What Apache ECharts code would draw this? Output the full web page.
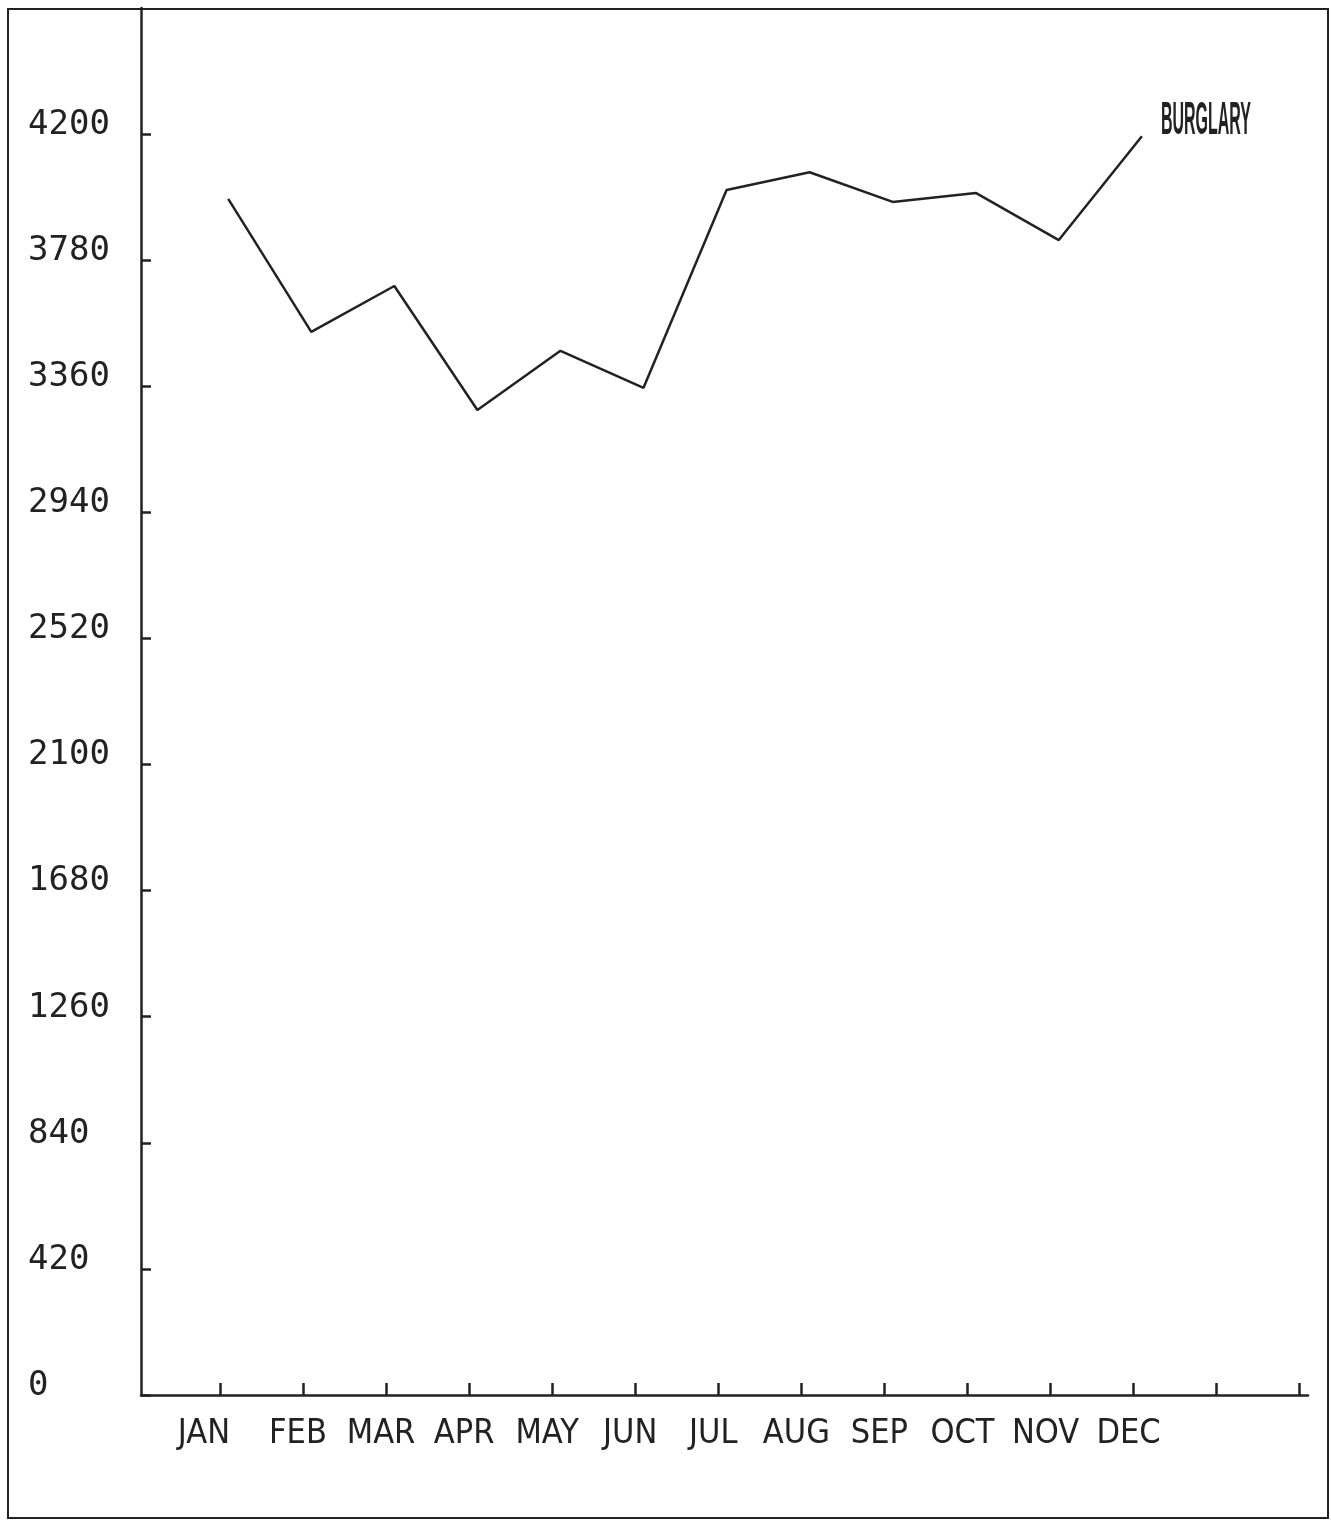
<!DOCTYPE html>
<html>
<head>
<meta charset="utf-8">
<script src="https://cdn.jsdelivr.net/npm/echarts@6/dist/echarts.min.js"></script>
<style>
  html, body { margin: 0; padding: 0; background: #fff; }
  #chart { width: 1331px; height: 1522px; }
</style>
</head>
<body>
<div id="chart"></div>
<script>
const months = ['JAN', 'FEB', 'MAR', 'APR', 'MAY', 'JUN', 'JUL', 'AUG', 'SEP', 'OCT', 'NOV', 'DEC'];
const burglary = [3984, 3541, 3694, 3281, 3478, 3355, 4014, 4073, 3974, 4004, 3847, 4193];
const seriesName = 'BURGLARY';
const yTicks = [0, 420, 840, 1260, 1680, 2100, 2520, 2940, 3360, 3780, 4200];
const xTicks = [1, 2, 3, 4, 5, 6, 7, 8, 9, 10, 11, 12, 13, 14];

const ink = '#222';
const plotShift = 0.1; // the plotter put the points a little right of the tick marks

const chart = echarts.init(document.getElementById('chart'));

const frame = {
  type: 'rect',
  z: -1,
  shape: { x: 8, y: 9, width: 1320, height: 1509 },
  style: { fill: 'none', stroke: ink, lineWidth: 2 }
};

chart.setOption({
  animation: false,
  backgroundColor: '#fff',
  grid: { left: 141, right: 23, top: 8, bottom: 127 },
  xAxis: {
    type: 'value',
    min: 0.05,
    max: 14.1,
    axisLine: { onZero: false, lineStyle: { color: ink, width: 2.5 } },
    axisTick: { inside: true, length: 12, customValues: xTicks, lineStyle: { color: ink, width: 2.5 } },
    axisLabel: {
      customValues: months.map((m, i) => i + 1),
      // first label sits further left than the others in the original
      formatter: v => {
        const i = Math.round(v) - 1;
        return i === 0 ? '{first|' + months[i] + '}' : (months[i] || '');
      },
      fontFamily: '"Liberation Sans Narrow", "DejaVu Sans Condensed", sans-serif',
      fontSize: 34,
      color: ink,
      margin: 22,
      padding: [0, 10, 0, 0],
      rich: {
        first: {
          fontFamily: '"Liberation Sans Narrow", "DejaVu Sans Condensed", sans-serif',
          fontSize: 34,
          color: ink,
          padding: [0, 22, 0, 0]
        }
      }
    },
    splitLine: { show: false }
  },
  yAxis: {
    type: 'value',
    min: 0,
    max: 4620,
    axisLine: { show: true, onZero: false, lineStyle: { color: ink, width: 2.5 } },
    axisTick: { show: true, inside: true, length: 10, customValues: yTicks, lineStyle: { color: ink, width: 2.5 } },
    axisLabel: {
      customValues: yTicks,
      formatter: v => String(v),
      fontFamily: '"DejaVu Sans Mono", monospace',
      fontSize: 34,
      color: ink,
      align: 'left',
      verticalAlign: 'bottom',
      lineHeight: 18,
      margin: 113
    },
    splitLine: { show: false }
  },
  graphic: [frame],
  series: [{
    name: seriesName,
    type: 'line',
    data: burglary.map((v, i) => [i + 1 + plotShift, v]),
    symbol: 'none',
    lineStyle: { color: ink, width: 2.5 }
  }]
});

// series name written next to the last point, squeezed like the plotter lettering
const last = burglary.length - 1;
const endPt = chart.convertToPixel({ gridIndex: 0 }, [last + 1 + plotShift, burglary[last]]);
chart.setOption({
  graphic: [frame, {
    type: 'text',
    x: endPt[0] + 19,
    y: endPt[1] - 15,
    scaleX: 0.34,
    style: {
      text: seriesName,
      font: 'bold 47px "Liberation Sans", sans-serif',
      fill: ink,
      textAlign: 'left',
      textVerticalAlign: 'middle'
    }
  }]
});
</script>
</body>
</html>
